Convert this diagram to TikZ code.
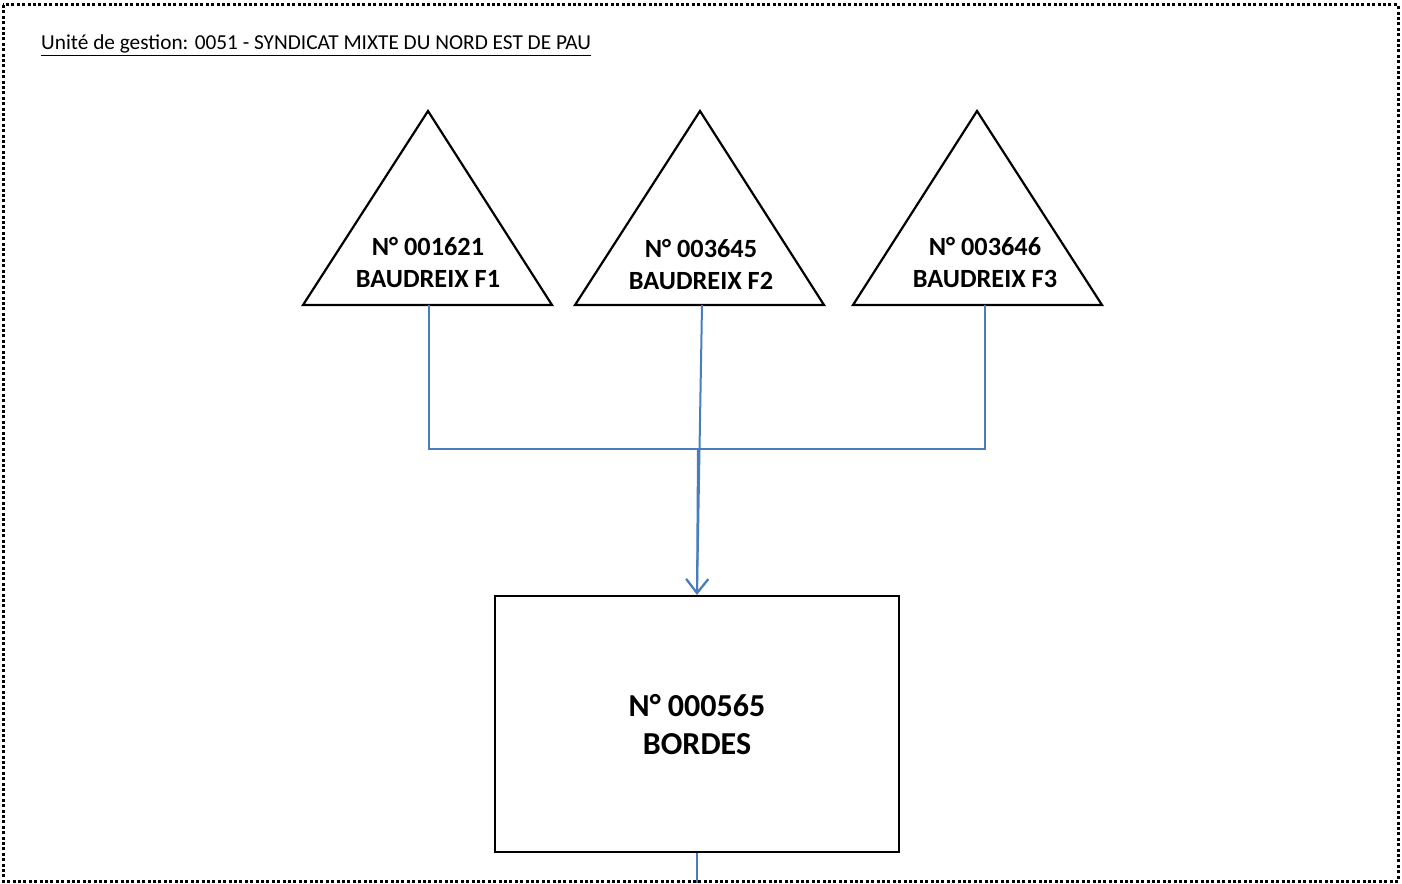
\documentclass[tikz,border=0pt]{standalone}
\usepackage{fontspec}
\setmainfont{Carlito}
\usepackage{xcolor}
\usetikzlibrary{positioning,calc,arrows.meta}
\definecolor{liaison}{HTML}{4A7EBB}
\tikzset{
  cadre/.style={line width=3pt, dash pattern=on 3pt off 2.4pt},
  forage/.style={draw, line width=2.2pt, line join=miter},
  usine/.style={draw, line width=2.6pt, minimum width=404pt, minimum height=256pt, inner sep=0pt},
  etiq/.style={font=\fontsize{26.3}{32}\selectfont\bfseries, align=center},
  lien/.style={liaison, line width=2pt},
  fleche/.style={lien, -{Straight Barb[length=14pt, width=22pt, line width=2pt]}}
}
\begin{document}
\begin{tikzpicture}[x=1pt, y=-1pt]
    \useasboundingbox (0,0) rectangle (1402,883);
    % Cadre
    \draw [cadre] (3,5) rectangle (1398,881);
    \node [anchor=base west, inner sep=0pt, font=\fontsize{21.3}{24}\selectfont] (titre) at (41,50)
      {\underline{Unité de gestion: 0051 - SYNDICAT MIXTE DU NORD EST DE PAU}};
    % Forages
    \draw [forage] (303,305) -- (428,111) -- (552,305) -- cycle;
    \draw [forage] (575,305) -- (700,111) -- (824,305) -- cycle;
    \draw [forage] (853,305) -- (977,111) -- (1102,305) -- cycle;
    \node [etiq] (f1) at (428,263) {N° 001621\\BAUDREIX F1};
    \node [etiq] (f2) at (701,265) {N° 003645\\BAUDREIX F2};
    \node [etiq] (f3) at (985,263) {N° 003646\\BAUDREIX F3};
    \coordinate (f1b) at (429,305);
    \coordinate (f2b) at (702,305);
    \coordinate (f3b) at (985,305);
    \coordinate (jonc) at (698,449);
    % Usine
    \node [usine] (bordes) at (697,724) {};
    \node [etiq, font=\fontsize{32}{38}\selectfont\bfseries] (bordest) at (697,725) {N° 000565\\BORDES};
    \coordinate (sortie) at (697,883);
    % Liaisons
    \draw [lien] (f1b) |- (jonc);
    \draw [lien] (f3b) |- (jonc);
    \draw [fleche] (f2b) -- (bordes.north);
    \draw [fleche] (jonc) -- (bordes.north);
    \draw [lien] (bordes.south) -- (sortie);
\end{tikzpicture}
\end{document}
